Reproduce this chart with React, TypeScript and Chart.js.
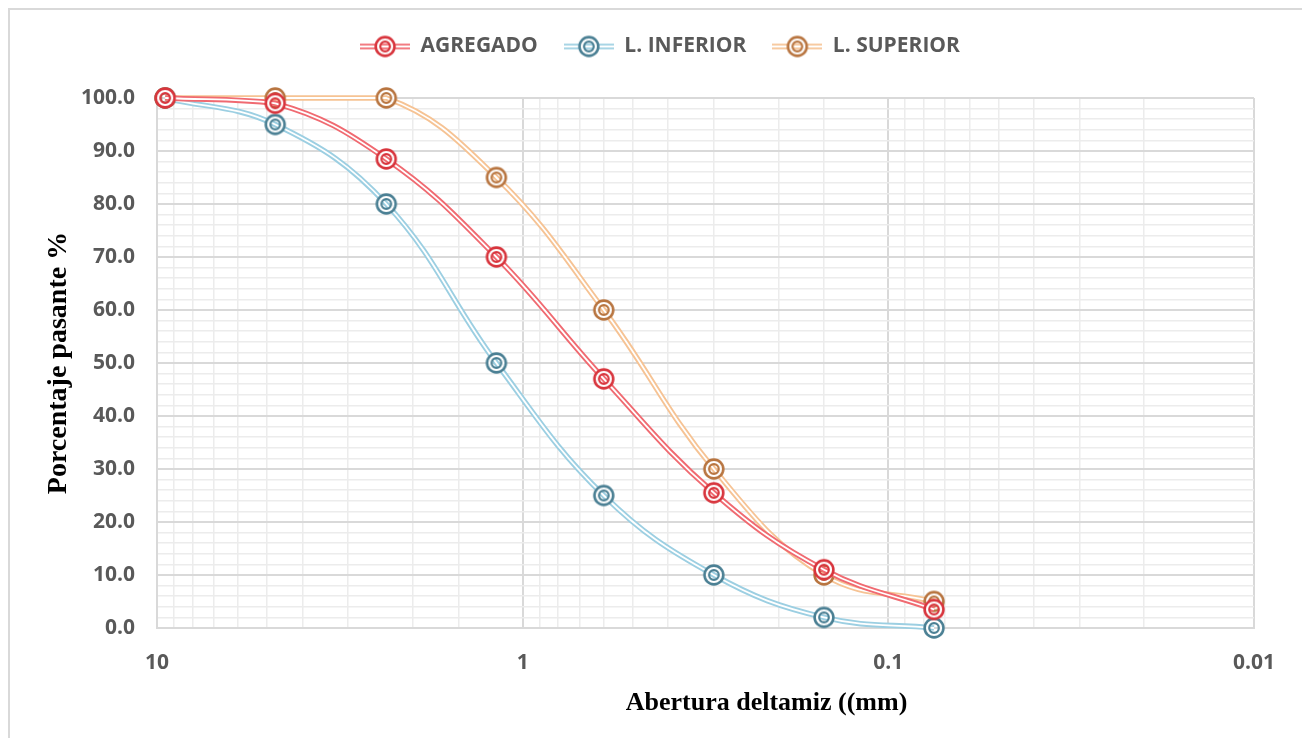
import { useEffect, useRef } from "react";
import { Chart, registerables } from "chart.js";

Chart.register(...registerables);

// Sieve openings (mm) and percent passing for each curve
const sieveSizes = [9.5, 4.75, 2.36, 1.18, 0.6, 0.3, 0.15, 0.075];
const agregado = [100, 99, 88.5, 70, 47, 25.5, 11, 3.5];
const limiteInferior = [100, 95, 80, 50, 25, 10, 2, 0];
const limiteSuperior = [100, 100, 100, 85, 60, 30, 10, 5];

const seriesNames = ["AGREGADO", "L. INFERIOR", "L. SUPERIOR"];
const seriesValues = [agregado, limiteInferior, limiteSuperior];
const lineColors = ["#f06a71", "#9ccfe2", "#f6c394"];
const markerColors = ["#d8353d", "#4b8094", "#b87540"];
// draw order: lower value ends up on top
const seriesOrder = [1, 5, 3];

const xTitle = "Abertura deltamiz ((mm)";
const yTitle = "Porcentaje pasante %";

const tickColor = "#595959";
const tickFont = { family: "'Open Sans', sans-serif", size: 21, weight: "bold" as const };

function makeMarker(color: string): HTMLCanvasElement {
  const c = document.createElement("canvas");
  c.width = 26;
  c.height = 26;
  const g = c.getContext("2d")!;
  g.beginPath();
  g.arc(13, 13, 9.4, 0, Math.PI * 2);
  g.arc(13, 13, 4.8, 0, Math.PI * 2, true);
  g.fillStyle = "#ffffff";
  g.fill();
  g.strokeStyle = color;
  g.lineWidth = 2.6;
  g.beginPath();
  g.arc(13, 13, 9.4, 0, Math.PI * 2);
  g.stroke();
  g.lineWidth = 2.2;
  g.beginPath();
  g.arc(13, 13, 4.8, 0, Math.PI * 2);
  g.stroke();
  return c;
}

function makeLegendSymbol(lineColor: string, markerColor: string): HTMLCanvasElement {
  const c = document.createElement("canvas");
  c.width = 50;
  c.height = 26;
  const g = c.getContext("2d")!;
  g.strokeStyle = lineColor;
  g.lineWidth = 5.5;
  g.beginPath();
  g.moveTo(0, 13);
  g.lineTo(50, 13);
  g.stroke();
  g.strokeStyle = "#ffffff";
  g.lineWidth = 1.8;
  g.beginPath();
  g.moveTo(0, 13);
  g.lineTo(50, 13);
  g.stroke();
  g.drawImage(makeMarker(markerColor), 12, 0);
  return c;
}

function isDecade(v: number): boolean {
  const l = Math.log10(v);
  return Math.abs(l - Math.round(l)) < 1e-6;
}

function decadeLabel(v: number): string {
  const e = Math.round(Math.log10(v));
  return e >= 0 ? String(Math.pow(10, e)) : Math.pow(10, e).toFixed(-e);
}

const xTitlePlugin = {
  id: "xTitle",
  afterDraw(chart: Chart) {
    const { ctx, chartArea } = chart;
    ctx.save();
    ctx.font = "bold 26px 'Liberation Serif', serif";
    ctx.fillStyle = "#000000";
    ctx.textAlign = "center";
    ctx.textBaseline = "middle";
    ctx.fillText(xTitle, (chartArea.left + chartArea.right) / 2 + 61, chartArea.bottom + 75);
    ctx.restore();
  },
};

export default function App() {
  const canvasRef = useRef<HTMLCanvasElement | null>(null);

  useEffect(() => {
    const canvas = canvasRef.current;
    if (!canvas) return;

    const markers = markerColors.map((c) => makeMarker(c));
    const legendSymbols = lineColors.map((c, i) => makeLegendSymbol(c, markerColors[i]));

    const datasets: any[] = [];
    seriesValues.forEach((vals, i) => {
      const data = sieveSizes.map((x, k) => ({ x, y: vals[k] }));
      // outer coloured stroke
      datasets.push({
        label: seriesNames[i],
        data,
        borderColor: lineColors[i],
        borderWidth: 5.5,
        pointRadius: 0,
        tension: 0.4,
        fill: false,
        clip: false,
        order: seriesOrder[i] + 1,
      });
      // white centre stroke and markers
      datasets.push({
        label: seriesNames[i] + " ",
        data,
        borderColor: "#ffffff",
        borderWidth: 1.8,
        pointStyle: markers[i],
        pointRadius: 10,
        tension: 0.4,
        fill: false,
        clip: false,
        order: seriesOrder[i],
      });
    });

    const chart = new Chart(canvas, {
      type: "line",
      data: { datasets },
      plugins: [xTitlePlugin],
      options: {
        responsive: false,
        animation: false,
        events: [],
        layout: { padding: { top: 0, right: 49, bottom: 0, left: 56 } },
        plugins: {
          tooltip: { enabled: false },
          title: {
            display: true,
            text: "",
            weight: 500,
            font: { size: 10 },
            padding: { top: 0, bottom: 19 },
          } as any,
          legend: {
            display: true,
            position: "top",
            labels: {
              usePointStyle: true,
              pointStyleWidth: 50,
              padding: 26,
              color: tickColor,
              font: { family: "'Open Sans', sans-serif", size: 21, weight: "bold" },
              generateLabels: () =>
                seriesNames.map((name, i) => ({
                  text: name,
                  pointStyle: legendSymbols[i] as any,
                  fontColor: tickColor,
                  fillStyle: "rgba(0,0,0,0)",
                  strokeStyle: "rgba(0,0,0,0)",
                  lineWidth: 0,
                  hidden: false,
                  datasetIndex: i * 2 + 1,
                })),
            },
          },
        },
        scales: {
          x: {
            type: "logarithmic",
            reverse: true,
            min: 0.01,
            max: 10,
            afterFit: (scale: any) => {
              scale.height = 110;
            },
            border: { display: true, color: "#d9d9d9", width: 2 },
            grid: {
              drawTicks: false,
              color: (ctx: any) => (ctx.tick && isDecade(ctx.tick.value) ? "#d9d9d9" : "#ececec"),
              lineWidth: (ctx: any) => (ctx.tick && isDecade(ctx.tick.value) ? 2 : 1.5),
            },
            ticks: {
              autoSkip: false,
              maxRotation: 0,
              padding: 22,
              color: tickColor,
              font: tickFont,
              callback: (value: any) => (isDecade(Number(value)) ? decadeLabel(Number(value)) : ""),
            },
          },
          y: {
            min: 0,
            max: 100,
            afterFit: (scale: any) => {
              scale.width = 91;
            },
            border: { display: true, color: "#d9d9d9", width: 2 },
            grid: {
              drawTicks: false,
              color: (ctx: any) => (ctx.tick && ctx.tick.value % 10 === 0 ? "#d9d9d9" : "#ececec"),
              lineWidth: (ctx: any) => (ctx.tick && ctx.tick.value % 10 === 0 ? 2 : 1.5),
            },
            ticks: {
              stepSize: 2,
              autoSkip: false,
              padding: 22,
              color: tickColor,
              font: tickFont,
              callback: (value: any) => (Number(value) % 10 === 0 ? Number(value).toFixed(1) : ""),
            },
            title: {
              display: true,
              text: yTitle,
              color: "#000000",
              font: { family: "'Liberation Serif', serif", size: 28, weight: "bold" },
              padding: { top: -24, bottom: 0 },
            },
          },
        },
      },
    });

    return () => chart.destroy();
  }, []);

  return (
    <div
      style={{
        width: 1293,
        height: 728,
        borderTop: "2px solid #d9d9d9",
        borderLeft: "2px solid #d9d9d9",
        borderRight: "2px solid #d9d9d9",
        background: "#ffffff",
      }}
    >
      <canvas ref={canvasRef} width={1293} height={728} style={{ display: "block" }} />
    </div>
  );
}
